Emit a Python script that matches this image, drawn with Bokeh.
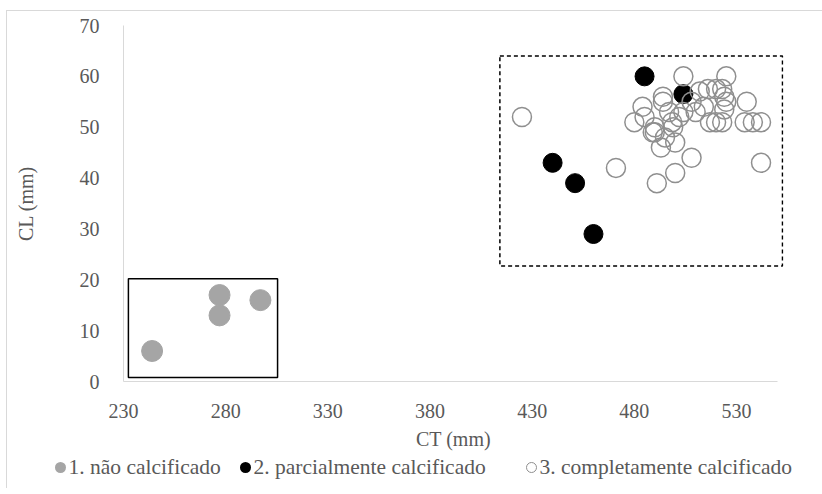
from bokeh.plotting import figure
from bokeh.layouts import column
from bokeh.models import Range1d, FixedTicker, BoxAnnotation, Div
from bokeh.embed import file_html
from bokeh.resources import INLINE

# Group 1: não calcificado
ct_nao = [244, 277, 277, 297]
cl_nao = [6, 17, 13, 16]

# Group 2: parcialmente calcificado
ct_parc = [485, 504, 440, 451, 460]
cl_parc = [60, 56.5, 43, 39, 29]

# Group 3: completamente calcificado
ct_comp = [425, 471, 491, 500, 508, 542, 504, 525, 535, 493, 500, 490, 480,
           534, 538, 542, 517, 520, 523, 494, 484, 485, 494, 497, 498.5, 502,
           490, 499, 495, 512, 516, 520, 523, 524, 525, 508, 514, 524, 510,
           504, 489]
cl_comp = [52, 42, 39, 41, 44, 43, 60, 60, 55, 46, 47, 49, 51,
           51, 51, 51, 51, 51, 51, 56, 54, 52, 55, 53, 51, 52,
           50, 50, 48, 57, 57.5, 57.5, 57.5, 56, 55, 55, 54, 53.5, 53,
           53, 49]

labels = ["1. não calcificado", "2. parcialmente calcificado",
          "3. completamente calcificado"]

x_ticks = [230, 280, 330, 380, 430, 480, 530]
y_ticks = [0, 10, 20, 30, 40, 50, 60, 70]

# highlight boxes (data units): left, right, bottom, top
box_nao = (232.4, 305.4, 0.8, 20.2)
box_rest = (414.2, 552.5, 22.7, 64.0)

FONT = "Liberation Serif"
TXT = "#595959"
AXIS = "#d9d9d9"

STYLES = [dict(fill_color="#a5a5a5", line_color="#a5a5a5"),
          dict(fill_color="black", line_color="black"),
          dict(fill_color=None, line_color="#8f8f8f", line_width=1.5)]

# ---- scatter panel ----
p = figure(width=815, height=441, output_backend="svg", toolbar_location=None,
           x_range=Range1d(230, 553), y_range=Range1d(0, 70),
           min_border_left=116, min_border_right=39, min_border_top=14,
           min_border_bottom=70)
p.outline_line_color = None
p.xgrid.grid_line_color = None
p.ygrid.grid_line_color = None

for ax, ticks in ((p.xaxis, x_ticks), (p.yaxis, y_ticks)):
    ax.ticker = FixedTicker(ticks=ticks)
    ax.major_tick_line_color = None
    ax.minor_tick_line_color = None
    ax.axis_line_color = AXIS
    ax.major_label_text_font = FONT
    ax.major_label_text_font_size = "20px"
    ax.major_label_text_color = TXT
    ax.axis_label_text_font = FONT
    ax.axis_label_text_font_size = "20px"
    ax.axis_label_text_color = TXT
    ax.axis_label_text_font_style = "normal"

p.xaxis.bounds = (230, 550)
p.xaxis.axis_label = "CT (mm)"
p.yaxis.axis_label = "CL (mm)"
p.xaxis.major_label_standoff = 16
p.yaxis.major_label_standoff = 18
p.xaxis.axis_label_standoff = 7
p.yaxis.axis_label_standoff = 40

p.scatter(ct_nao, cl_nao, size=21, **STYLES[0])
p.scatter(ct_parc, cl_parc, size=19, **STYLES[1])
p.scatter(ct_comp, cl_comp, size=19, **STYLES[2])

p.add_layout(BoxAnnotation(left=box_nao[0], right=box_nao[1], bottom=box_nao[2],
                           top=box_nao[3], fill_alpha=0, line_color="black",
                           line_alpha=1, line_width=1.5))
p.add_layout(BoxAnnotation(left=box_rest[0], right=box_rest[1], bottom=box_rest[2],
                           top=box_rest[3], fill_alpha=0, line_color="black",
                           line_alpha=1, line_width=1.5, line_dash="4 3"))

# ---- legend row (HTML), entries placed by pixel offset ----
entry_x = [53, 238, 524]   # marker centre of each entry
MARK = 11


def swatch(st):
    fill = st["fill_color"] or "transparent"
    border = "1.5px solid %s" % st["line_color"] if st["fill_color"] is None else "none"
    return ("<span style='display:inline-block;box-sizing:border-box;width:%dpx;"
            "height:%dpx;border-radius:50%%;background:%s;border:%s;"
            "margin-right:3px'></span>" % (MARK, MARK, fill, border))


entries = "".join(
    "<div style='position:absolute;left:%.1fpx;top:0;height:30px;display:flex;"
    "align-items:center;white-space:nowrap'>%s<span>%s</span></div>"
    % (x - MARK / 2, swatch(st), lab)
    for x, lab, st in zip(entry_x, labels, STYLES))

legend_div = Div(
    text="<div style=\"position:relative;width:815px;height:36px;"
         "font-family:'%s';font-size:21.5px;color:%s\">%s</div>" % (FONT, TXT, entries),
    width=815, height=36, margin=0)

page = column(p, legend_div, spacing=0)
page.styles = {"border-left": "1px solid #d9d9d9", "border-top": "1px solid #d9d9d9",
               "margin-left": "6px", "margin-top": "10px"}

open("out.html", "w").write(file_html(page, INLINE))
